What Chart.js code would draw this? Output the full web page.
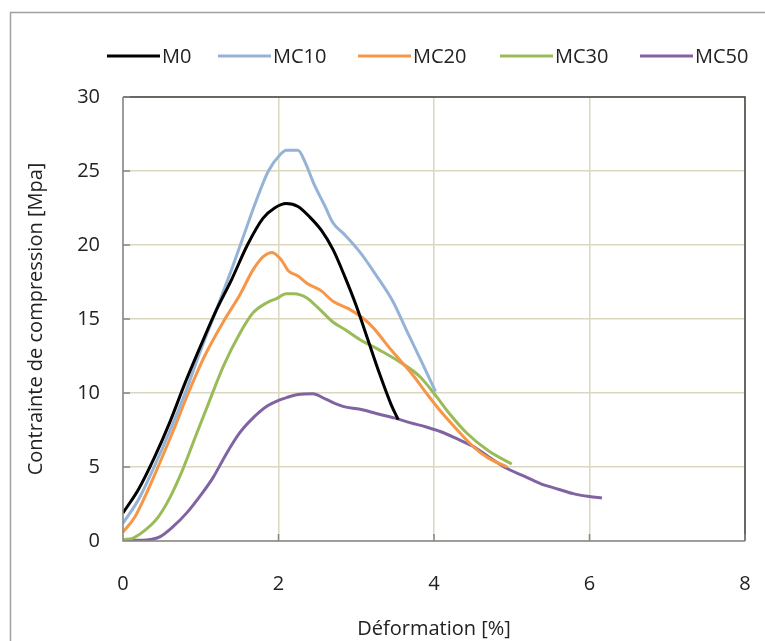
<!DOCTYPE html>
<html>
<head>
<meta charset="utf-8">
<script src="https://cdn.jsdelivr.net/npm/chart.js@4/dist/chart.umd.min.js"></script>
<style>
  html, body { margin: 0; padding: 0; background: #fff; }
  #wrap { width: 765px; height: 641px; position: relative; }
</style>
</head>
<body>
<div id="wrap"><canvas id="myChart" width="765" height="641"></canvas></div>
<script>
const seriesNames = ['M0', 'MC10', 'MC20', 'MC30', 'MC50'];
const seriesColors = ['#000000', '#95b3d7', '#f79646', '#9bbb59', '#8064a2'];

const m0X = [0, 0.2, 0.4, 0.6, 0.8, 1.0, 1.2, 1.4, 1.6, 1.8, 1.95, 2.1, 2.25, 2.4, 2.55, 2.7, 2.85, 3.0, 3.15, 3.3, 3.45, 3.54];
const m0Y = [1.9, 3.5, 5.6, 8.0, 10.7, 13.2, 15.6, 17.7, 20.0, 21.8, 22.5, 22.8, 22.6, 21.9, 21.0, 19.7, 17.9, 15.9, 13.6, 11.3, 9.2, 8.2];

const mc10X = [0, 0.2, 0.4, 0.6, 0.8, 1.0, 1.2, 1.4, 1.55, 1.7, 1.87, 2.02, 2.1, 2.25, 2.35, 2.45, 2.6, 2.7, 2.85, 3.05, 3.25, 3.47, 3.65, 3.85, 4.02];
const mc10Y = [1.2, 2.8, 5.0, 7.4, 10.0, 12.9, 15.6, 18.4, 20.6, 22.8, 25.0, 26.1, 26.4, 26.4, 25.5, 24.2, 22.6, 21.5, 20.7, 19.5, 18.0, 16.2, 14.2, 12.0, 10.1];

const mc20X = [0, 0.15, 0.3, 0.45, 0.65, 0.84, 1.05, 1.3, 1.5, 1.67, 1.8, 1.92, 2.0, 2.05, 2.12, 2.25, 2.37, 2.55, 2.7, 2.9, 3.1, 3.22, 3.45, 3.73, 3.9, 4.08, 4.3, 4.5, 4.7, 4.94];
const mc20Y = [0.6, 1.6, 3.2, 5.0, 7.5, 10.0, 12.5, 14.9, 16.6, 18.3, 19.2, 19.5, 19.2, 18.9, 18.3, 17.9, 17.4, 16.9, 16.2, 15.7, 15.0, 14.4, 12.9, 11.2, 10.0, 8.8, 7.5, 6.4, 5.6, 5.0];

const mc30X = [0, 0.13, 0.3, 0.45, 0.6, 0.75, 0.95, 1.1, 1.29, 1.5, 1.67, 1.85, 1.98, 2.1, 2.2, 2.37, 2.5, 2.7, 2.85, 3.05, 3.3, 3.56, 3.82, 4.04, 4.2, 4.42, 4.7, 5.0];
const mc30Y = [0.1, 0.2, 0.8, 1.6, 2.9, 4.6, 7.3, 9.3, 11.8, 14.0, 15.4, 16.1, 16.4, 16.7, 16.7, 16.4, 15.8, 14.8, 14.3, 13.6, 12.9, 12.1, 11.1, 9.7, 8.6, 7.3, 6.1, 5.2];

const mc50X = [0, 0.2, 0.35, 0.48, 0.65, 0.82, 1.0, 1.16, 1.33, 1.5, 1.67, 1.85, 2.0, 2.11, 2.25, 2.44, 2.6, 2.83, 3.05, 3.27, 3.5, 3.69, 3.9, 4.08, 4.3, 4.5, 4.7, 4.94, 5.15, 5.36, 5.6, 5.79, 6.0, 6.16];
const mc50Y = [0.0, 0.05, 0.1, 0.3, 1.0, 1.9, 3.1, 4.3, 5.9, 7.3, 8.3, 9.1, 9.5, 9.7, 9.9, 9.95, 9.6, 9.1, 8.9, 8.6, 8.3, 8.0, 7.7, 7.4, 6.9, 6.4, 5.7, 4.9, 4.4, 3.9, 3.5, 3.2, 3.0, 2.9];

const xTicks = [0, 2, 4, 6, 8];
const yTicks = [0, 5, 10, 15, 20, 25, 30];

const allX = [m0X, mc10X, mc20X, mc30X, mc50X];
const allY = [m0Y, mc10Y, mc20Y, mc30Y, mc50Y];

const FONT = '"Open Sans", Lato, sans-serif';
const FS = 20;
const legendX = [107, 218, 358, 500, 640];   // left end of each legend line

// border around the whole figure, plot frame, inside tick marks and the legend row
const frame = {
    id: 'frame',
    beforeDraw(chart) {
        const c = chart.ctx;
        c.save();
        c.strokeStyle = '#a0a0a0';
        c.lineWidth = 1.5;
        c.strokeRect(10.5, 12.5, 800, 700);
        c.restore();
    },
    afterDraw(chart) {
        const c = chart.ctx;
        const a = chart.chartArea;
        const xs = chart.scales.x, ys = chart.scales.y;
        c.save();
        c.lineWidth = 1.5;
        c.strokeStyle = '#404040';
        c.beginPath();
        c.moveTo(a.left, a.top); c.lineTo(a.right, a.top); c.lineTo(a.right, a.bottom);
        c.stroke();
        c.strokeStyle = '#868686';
        c.beginPath();
        c.moveTo(a.left, a.top); c.lineTo(a.left, a.bottom); c.lineTo(a.right, a.bottom);
        xTicks.forEach(v => { const p = xs.getPixelForValue(v); c.moveTo(p, a.bottom); c.lineTo(p, a.bottom - 7); });
        yTicks.forEach(v => { const p = ys.getPixelForValue(v); c.moveTo(a.left, p); c.lineTo(a.left + 7, p); });
        c.stroke();

        // legend: line sample then label
        c.font = FS + 'px ' + FONT;
        c.textBaseline = 'middle';
        c.fillStyle = '#222';
        const y = 56;
        chart.data.datasets.forEach((ds, i) => {
            const x = legendX[i];
            c.strokeStyle = ds.borderColor;
            c.lineWidth = 3;
            c.beginPath();
            c.moveTo(x, y); c.lineTo(x + 53, y);
            c.stroke();
            c.fillText(ds.label, x + 55, y + 1);
        });
        c.restore();
    }
};

const ctx = document.getElementById('myChart').getContext('2d');
const myChart = new Chart(ctx, {
    type: 'scatter',
    data: {
        datasets: seriesNames.map((name, i) => ({
            label: name,
            data: allX[i].map((x, j) => ({ x: x, y: allY[i][j] })),
            showLine: true,
            borderColor: seriesColors[i],
            backgroundColor: seriesColors[i],
            borderWidth: 3,
            pointRadius: 0,
            cubicInterpolationMode: 'monotone'
        }))
    },
    options: {
        responsive: false,
        animation: false,
        layout: { padding: { top: 97, right: 20, left: 0, bottom: 0 } },
        plugins: {
            legend: { display: false },
            tooltip: { enabled: false }
        },
        scales: {
            x: {
                type: 'linear',
                min: 0,
                max: 8,
                afterBuildTicks: s => { s.ticks = xTicks.map(v => ({ value: v })); },
                afterFit: s => { s.height = 100; },
                grid: { color: '#dcd8c0', lineWidth: 1.5, drawTicks: true, tickLength: 31, tickColor: 'rgba(0,0,0,0)' },
                border: { display: false },
                ticks: { padding: 0, color: '#222', font: { family: FONT, size: FS } },
                title: { display: true, text: 'Déformation [%]', color: '#222', font: { family: FONT, size: FS }, padding: { top: 0, bottom: 0 } }
            },
            y: {
                type: 'linear',
                min: 0,
                max: 30,
                afterBuildTicks: s => { s.ticks = yTicks.map(v => ({ value: v })); },
                afterFit: s => { s.width = 123; },
                grid: { color: '#dcd8c0', lineWidth: 1.5, drawTicks: false },
                border: { display: false },
                ticks: { padding: 23, color: '#222', font: { family: FONT, size: FS } },
                title: { display: true, text: 'Contrainte de compression [Mpa]', color: '#222', font: { family: FONT, size: FS }, padding: { top: 24, bottom: 0 } }
            }
        }
    },
    plugins: [frame]
});
</script>
</body>
</html>
